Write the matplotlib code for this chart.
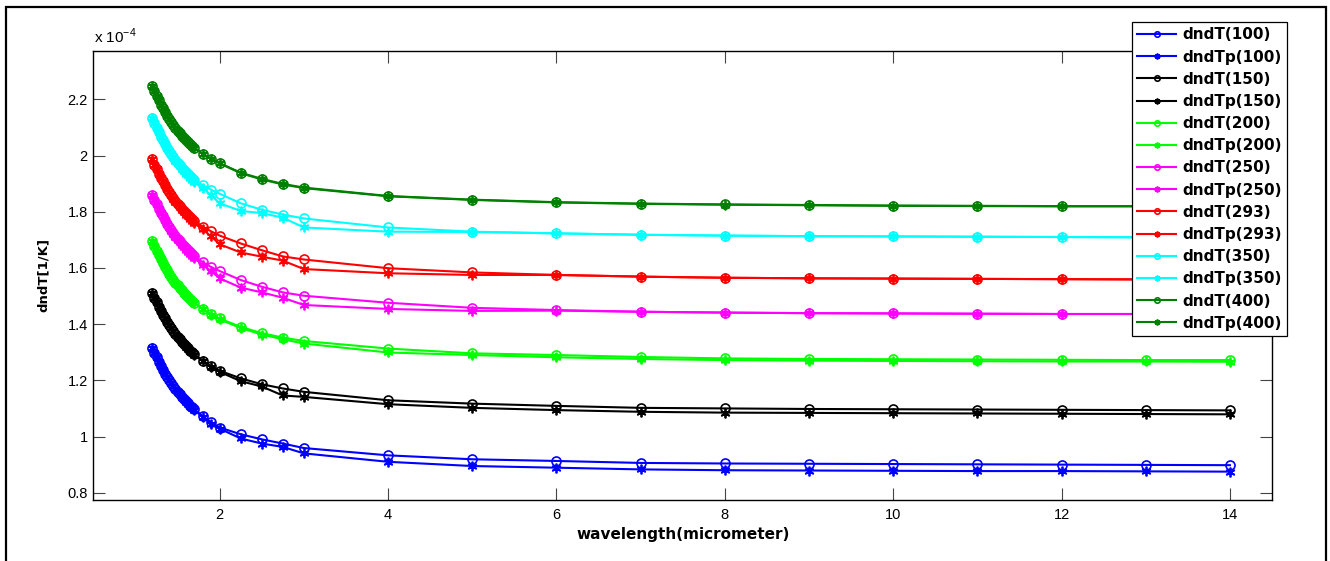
import numpy as np
import matplotlib.pyplot as plt
from matplotlib.patches import Rectangle

plt.rcParams['font.family'] = ['Liberation Sans', 'DejaVu Sans']
plt.rcParams['mathtext.fontset'] = 'custom'
plt.rcParams['mathtext.rm'] = 'Liberation Sans'

# wavelength in micrometer
wl = [1.2, 1.225, 1.25, 1.275, 1.3, 1.325, 1.35, 1.375, 1.4, 1.425, 1.45, 1.475, 1.5, 1.525,
      1.55, 1.575, 1.6, 1.625, 1.65, 1.675, 1.7, 1.8, 1.9, 2.0,
      2.25, 2.5, 2.75, 3, 4, 5, 6, 7, 8, 9, 10, 11, 12, 13, 14]

temps = ['100', '150', '200', '250', '293', '350', '400']
colors = [(0, 0, 1), (0, 0, 0), (0, 1, 0), (1, 0, 1), (1, 0, 0), (0, 1, 1), (0, 0.5, 0)]

# dn/dT values, units of 1e-4 1/K
dndT_100 = [1.316, 1.298, 1.282, 1.266, 1.251, 1.238, 1.224, 1.212, 1.200, 1.189, 1.179, 1.168, 1.159, 1.150,
            1.141, 1.133, 1.125, 1.118, 1.110, 1.104, 1.097, 1.072, 1.050, 1.032,
            1.008, 0.990, 0.975, 0.959, 0.933, 0.919, 0.913, 0.906, 0.904, 0.903, 0.902, 0.901, 0.900, 0.899, 0.898]
dndTp_100 = [1.316, 1.298, 1.282, 1.266, 1.251, 1.238, 1.224, 1.212, 1.200, 1.189, 1.179, 1.168, 1.159, 1.150,
             1.141, 1.133, 1.124, 1.117, 1.109, 1.103, 1.095, 1.069, 1.046, 1.028,
             0.993, 0.975, 0.963, 0.940, 0.910, 0.895, 0.889, 0.883, 0.880, 0.879, 0.878, 0.877, 0.877, 0.876, 0.875]
dndT_150 = [1.512, 1.494, 1.478, 1.462, 1.447, 1.434, 1.420, 1.408, 1.396, 1.385, 1.375, 1.364, 1.355, 1.346,
            1.337, 1.329, 1.321, 1.314, 1.306, 1.300, 1.293, 1.270, 1.250, 1.234,
            1.207, 1.186, 1.171, 1.159, 1.129, 1.117, 1.109, 1.102, 1.100, 1.098, 1.097, 1.096, 1.095, 1.094, 1.093]
dndTp_150 = [1.512, 1.494, 1.478, 1.462, 1.447, 1.434, 1.420, 1.408, 1.396, 1.385, 1.375, 1.364, 1.355, 1.346,
             1.337, 1.329, 1.320, 1.313, 1.305, 1.299, 1.291, 1.267, 1.246, 1.230,
             1.197, 1.178, 1.146, 1.141, 1.115, 1.102, 1.094, 1.088, 1.085, 1.084, 1.083, 1.082, 1.081, 1.080, 1.079]
dndT_200 = [1.695, 1.677, 1.661, 1.645, 1.630, 1.617, 1.603, 1.591, 1.579, 1.568, 1.558, 1.547, 1.538, 1.529,
            1.520, 1.512, 1.504, 1.497, 1.489, 1.483, 1.476, 1.454, 1.435, 1.420,
            1.390, 1.368, 1.352, 1.340, 1.313, 1.296, 1.290, 1.283, 1.278, 1.276, 1.275, 1.274, 1.273, 1.272, 1.272]
dndTp_200 = [1.695, 1.677, 1.661, 1.645, 1.630, 1.617, 1.603, 1.591, 1.579, 1.568, 1.558, 1.547, 1.538, 1.529,
             1.520, 1.512, 1.504, 1.497, 1.489, 1.483, 1.476, 1.453, 1.433, 1.417,
             1.386, 1.363, 1.346, 1.331, 1.299, 1.290, 1.282, 1.276, 1.272, 1.270, 1.269, 1.268, 1.267, 1.267, 1.266]
dndT_250 = [1.861, 1.843, 1.827, 1.811, 1.796, 1.783, 1.769, 1.757, 1.745, 1.734, 1.724, 1.713, 1.704, 1.695,
            1.686, 1.678, 1.670, 1.663, 1.655, 1.649, 1.642, 1.620, 1.603, 1.589,
            1.557, 1.533, 1.513, 1.501, 1.476, 1.458, 1.450, 1.444, 1.441, 1.439, 1.438, 1.437, 1.436, 1.436, 1.435]
dndTp_250 = [1.861, 1.843, 1.827, 1.811, 1.796, 1.783, 1.769, 1.757, 1.745, 1.733, 1.722, 1.711, 1.701, 1.692,
             1.682, 1.674, 1.665, 1.658, 1.649, 1.643, 1.635, 1.610, 1.588, 1.563,
             1.530, 1.513, 1.494, 1.468, 1.454, 1.447, 1.448, 1.444, 1.441, 1.439, 1.438, 1.437, 1.436, 1.436, 1.435]
dndT_293 = [1.986, 1.968, 1.952, 1.936, 1.921, 1.908, 1.894, 1.882, 1.870, 1.859, 1.849, 1.838, 1.829, 1.820,
            1.811, 1.803, 1.795, 1.788, 1.780, 1.774, 1.767, 1.746, 1.730, 1.715,
            1.687, 1.663, 1.641, 1.630, 1.599, 1.584, 1.575, 1.569, 1.565, 1.563, 1.562, 1.561, 1.560, 1.559, 1.559]
dndTp_293 = [1.986, 1.968, 1.952, 1.936, 1.921, 1.908, 1.894, 1.882, 1.870, 1.858, 1.847, 1.836, 1.826, 1.817,
             1.807, 1.799, 1.790, 1.783, 1.774, 1.768, 1.760, 1.737, 1.712, 1.684,
             1.655, 1.640, 1.626, 1.596, 1.581, 1.575, 1.575, 1.569, 1.565, 1.563, 1.562, 1.561, 1.560, 1.559, 1.559]
dndT_350 = [2.132, 2.114, 2.098, 2.082, 2.067, 2.054, 2.040, 2.028, 2.016, 2.005, 1.995, 1.984, 1.975, 1.966,
            1.957, 1.949, 1.941, 1.934, 1.926, 1.920, 1.913, 1.894, 1.878, 1.864,
            1.830, 1.807, 1.790, 1.776, 1.744, 1.729, 1.723, 1.718, 1.715, 1.713, 1.712, 1.711, 1.710, 1.709, 1.709]
dndTp_350 = [2.132, 2.114, 2.098, 2.082, 2.067, 2.054, 2.040, 2.028, 2.016, 2.004, 1.993, 1.982, 1.972, 1.963,
             1.953, 1.945, 1.936, 1.929, 1.920, 1.914, 1.906, 1.885, 1.858, 1.830,
             1.803, 1.795, 1.779, 1.744, 1.729, 1.728, 1.723, 1.718, 1.715, 1.713, 1.712, 1.711, 1.710, 1.709, 1.709]
dndT_400 = [2.246, 2.228, 2.212, 2.196, 2.181, 2.168, 2.154, 2.142, 2.130, 2.119, 2.109, 2.098, 2.089, 2.080,
            2.071, 2.063, 2.055, 2.048, 2.040, 2.034, 2.027, 2.006, 1.989, 1.973,
            1.939, 1.917, 1.899, 1.886, 1.856, 1.843, 1.834, 1.829, 1.826, 1.824, 1.822, 1.821, 1.820, 1.820, 1.819]
dndTp_400 = [2.246, 2.228, 2.212, 2.196, 2.181, 2.168, 2.154, 2.142, 2.130, 2.119, 2.109, 2.098, 2.089, 2.080,
             2.071, 2.063, 2.055, 2.048, 2.040, 2.034, 2.027, 2.005, 1.988, 1.972,
             1.937, 1.915, 1.897, 1.884, 1.855, 1.842, 1.833, 1.828, 1.825, 1.823, 1.821, 1.820, 1.819, 1.819, 1.818]

series_T = [dndT_100, dndT_150, dndT_200, dndT_250, dndT_293, dndT_350, dndT_400]
series_Tp = [dndTp_100, dndTp_150, dndTp_200, dndTp_250, dndTp_293, dndTp_350, dndTp_400]

xticks = [2, 4, 6, 8, 10, 12, 14]
yticks = [0.8, 1.0, 1.2, 1.4, 1.6, 1.8, 2.0, 2.2]
yticklabels = ['0.8', '1', '1.2', '1.4', '1.6', '1.8', '2', '2.2']

fig = plt.figure(figsize=(13.3, 5.61), dpi=100)
ax = fig.add_axes([0.0702, 0.1087, 0.8862, 0.8009])

for t, c, yT, yTp in zip(temps, colors, series_T, series_Tp):
    ax.plot(wl, yT, '-o', color=c, mfc='none', mec=c, ms=6.5, mew=1.2, lw=1.5,
            label='dndT(%s)' % t)
    ax.plot(wl, yTp, '-', marker=(6, 2, 0), color=c, mec=c, ms=7, mew=1.3, lw=1.5,
            label='dndTp(%s)' % t)

ax.set_xlim(0.5, 14.5)
ax.set_ylim(0.774, 2.373)
ax.set_xticks(xticks)
ax.set_xticklabels([str(v) for v in xticks])
ax.set_yticks(yticks)
ax.set_yticklabels(yticklabels)
ax.tick_params(direction='in', length=8.5, width=0.8, color='#444444', labelsize=10.5,
               top=True, right=True)
ax.tick_params(axis='x', pad=6)
ax.tick_params(axis='y', pad=4)
for s in ax.spines.values():
    s.set_linewidth(1.0)

ax.set_xlabel('wavelength(micrometer)', family='DejaVu Sans', fontweight='bold', fontsize=11, labelpad=3)
ax.set_ylabel('dndT[1/K]', family='DejaVu Sans', fontweight='bold', fontsize=9.5, labelpad=13)

fig.text(94 / 1330, 1 - 43 / 561, r'x 10$^{-4}$', fontsize=11, va='baseline')

leg = ax.legend(loc='upper left', bbox_to_anchor=(1132 / 1330, 1 - 22 / 561),
                bbox_transform=fig.transFigure, borderaxespad=0, fancybox=False,
                edgecolor='black', framealpha=1, markerscale=0.6, handlelength=2.55,
                handletextpad=0.4, labelspacing=0.47, borderpad=0.35,
                prop={'family': 'DejaVu Sans', 'weight': 'bold', 'size': 11})
leg.get_frame().set_linewidth(0.9)

fig.patches.append(Rectangle((6 / 1330, -0.05), 1320 / 1330, 1.05 - 7 / 561, fill=False,
                             edgecolor='black', linewidth=1.6, transform=fig.transFigure))

fig.savefig('out.png', dpi=100)
